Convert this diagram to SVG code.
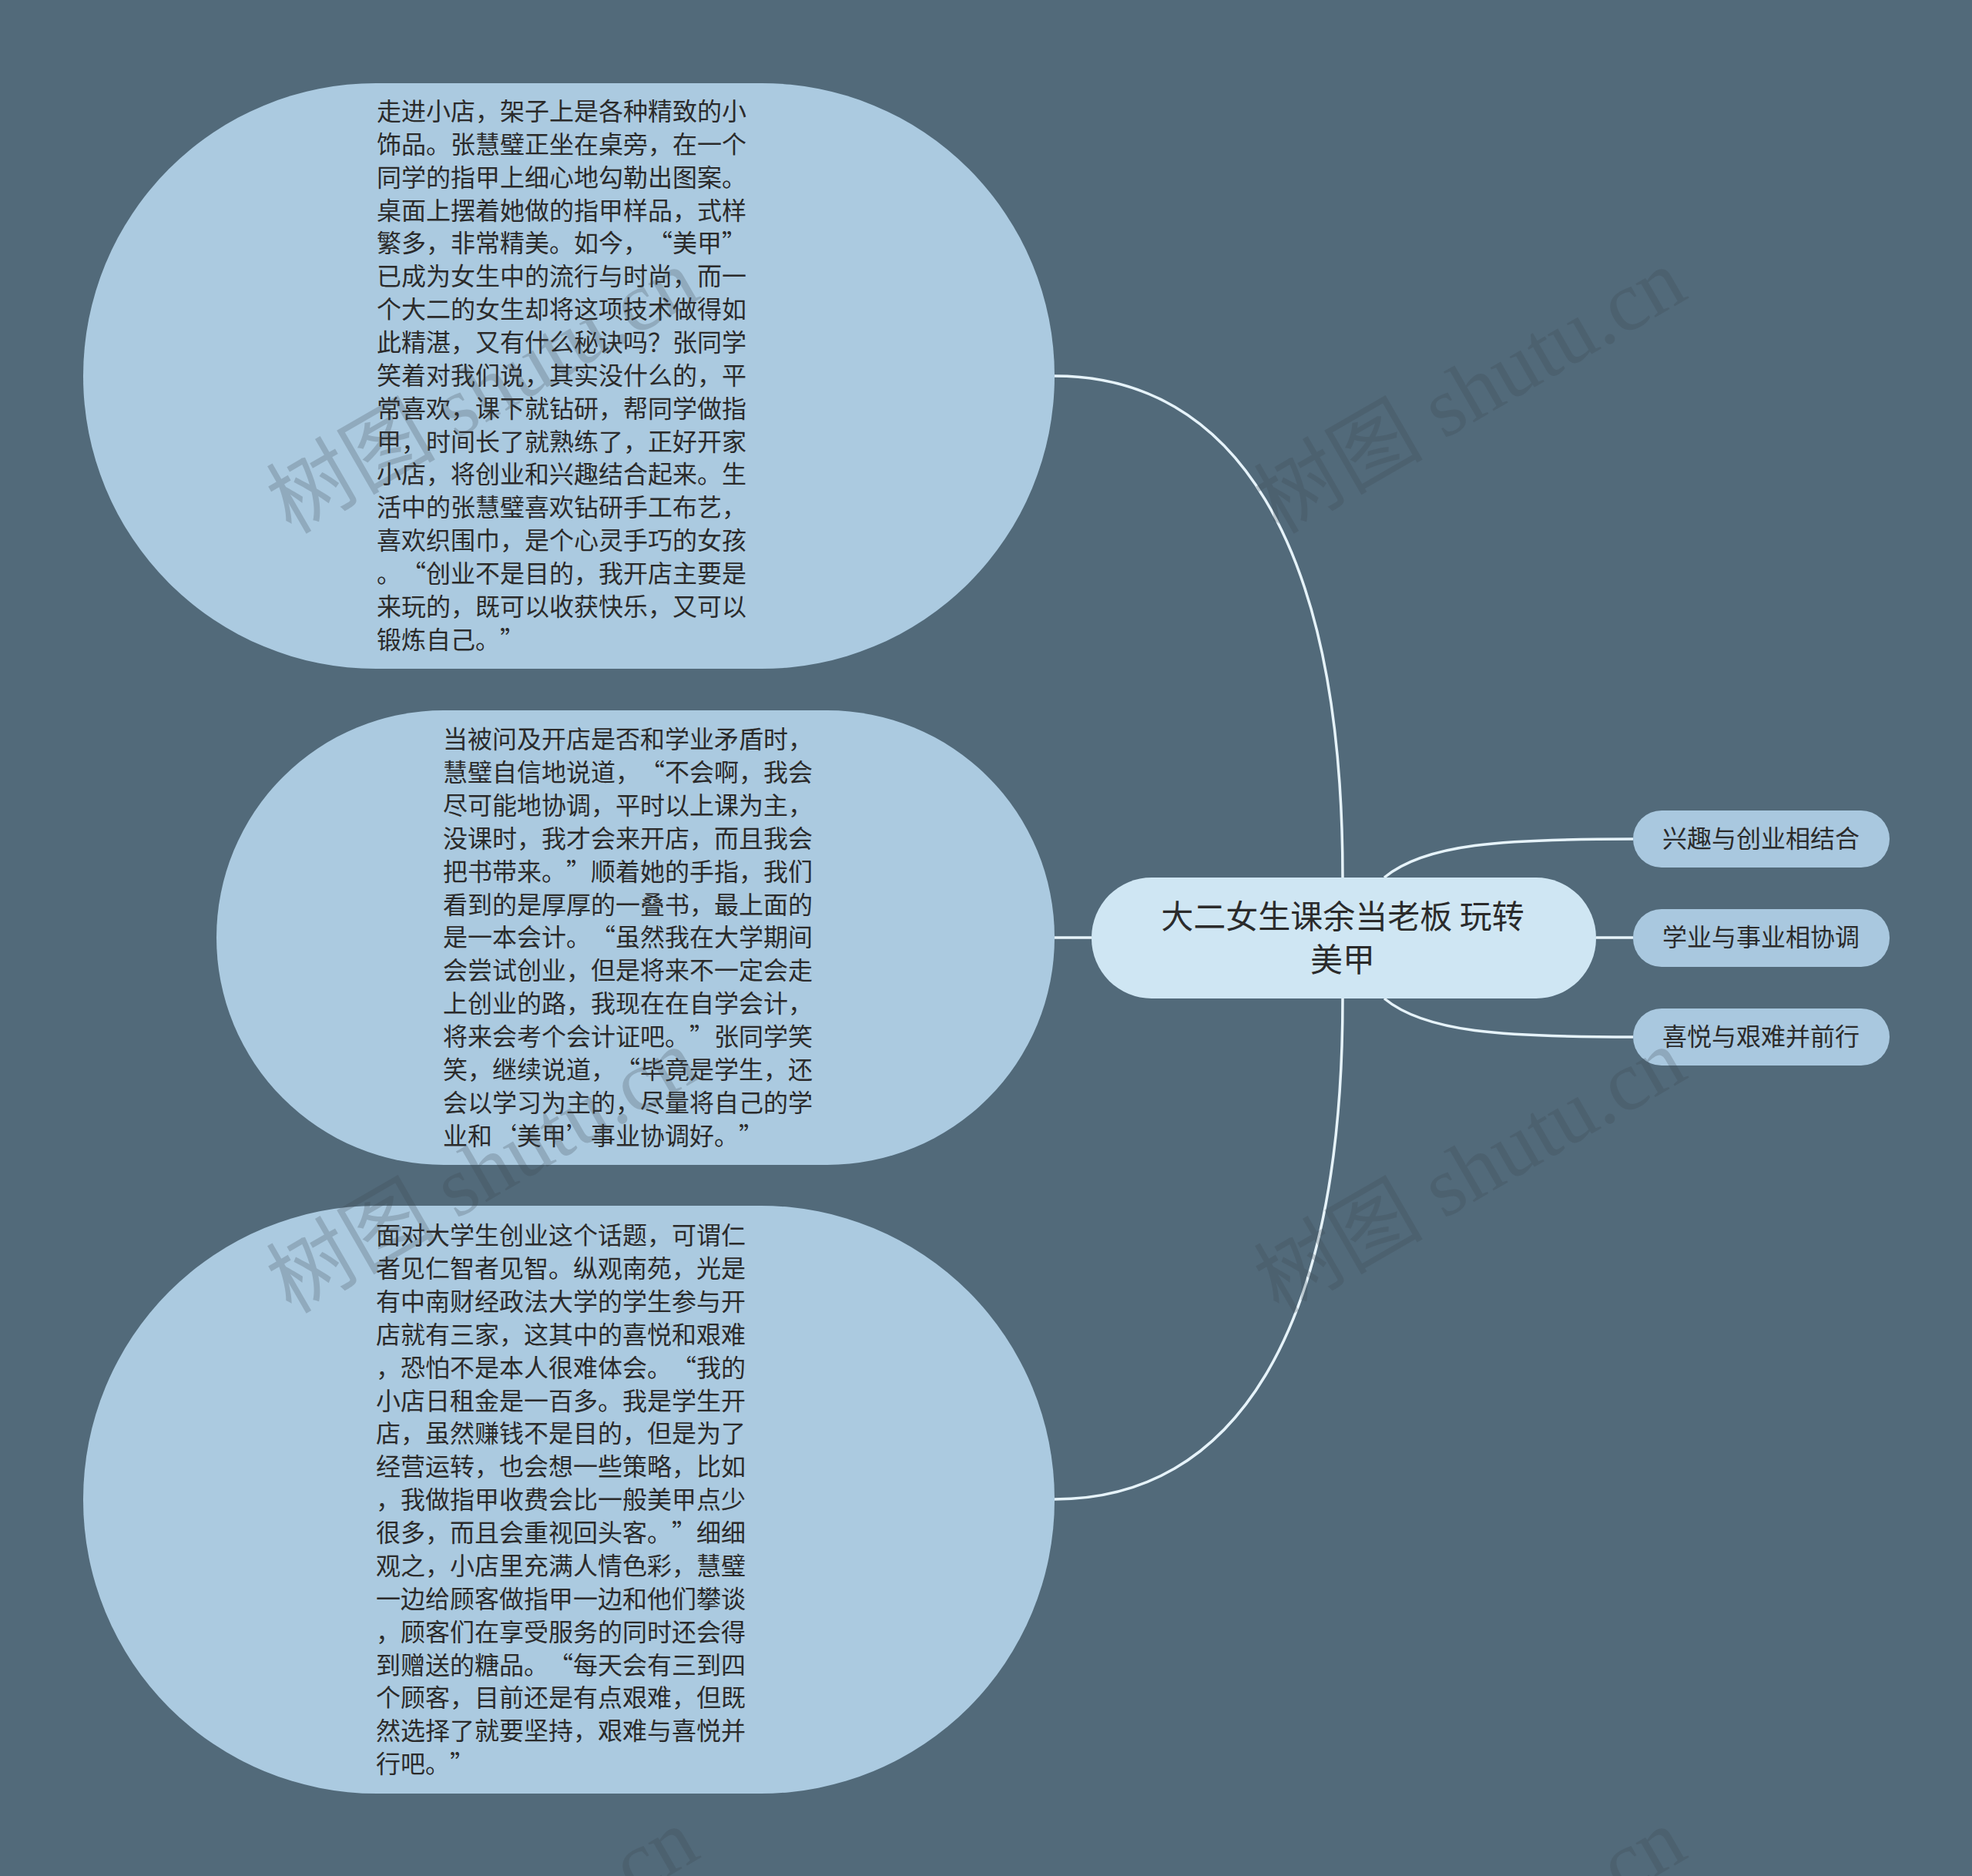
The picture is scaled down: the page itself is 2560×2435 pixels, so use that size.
<svg xmlns="http://www.w3.org/2000/svg" width="2560" height="2435" viewBox="0 0 2560 2435">
<style>
.bg{fill:#526a7a}
.big{fill:#abcae0}
.sub{fill:#a9c8df}
.root{fill:#cfe6f3}
.txt{font-family:"Noto Sans CJK SC","Noto Sans",sans-serif;font-size:32px;fill:#2b2b2b;text-spacing-trim:space-all}
.rtxt{font-family:"Noto Sans CJK SC","Noto Sans",sans-serif;font-size:42px;fill:#2b2b2b;text-anchor:middle}
.stxt{font-family:"Noto Sans CJK SC","Noto Sans",sans-serif;font-size:32px;fill:#2b2b2b;text-anchor:middle}
.conn{fill:none;stroke:#e6f3fa;stroke-width:3.5}
.wm{font-family:"Liberation Serif","Noto Sans CJK SC",serif;font-size:110px;fill:#3c4650;opacity:0.24}
</style>
<rect class="bg" x="0" y="0" width="2560" height="2435"/>
<g id="connectors">
<path class="conn" d="M1369,488 C1600,488 1743,700 1743,1139"/>
<path class="conn" d="M1369,1217 L1417,1217"/>
<path class="conn" d="M1369,1946 C1600,1946 1743,1734 1743,1296"/>
<path class="conn" d="M1797,1139 C1850,1095 1950,1089 2120,1089"/>
<path class="conn" d="M2072,1217 L2120,1217"/>
<path class="conn" d="M1797,1296 C1850,1340 1950,1346 2120,1346"/>
</g>
<g id="node1">
<rect class="big" x="108" y="108" width="1261" height="760" rx="380" ry="380"/>
<text class="txt">
<tspan x="489" y="156">走进小店，架子上是各种精致的小</tspan>
<tspan x="489" y="199">饰品。张慧璧正坐在桌旁，在一个</tspan>
<tspan x="489" y="242">同学的指甲上细心地勾勒出图案。</tspan>
<tspan x="489" y="285">桌面上摆着她做的指甲样品，式样</tspan>
<tspan x="489" y="327">繁多，非常精美。如今，“美甲”</tspan>
<tspan x="489" y="370">已成为女生中的流行与时尚，而一</tspan>
<tspan x="489" y="413">个大二的女生却将这项技术做得如</tspan>
<tspan x="489" y="456">此精湛，又有什么秘诀吗？张同学</tspan>
<tspan x="489" y="499">笑着对我们说，其实没什么的，平</tspan>
<tspan x="489" y="542">常喜欢，课下就钻研，帮同学做指</tspan>
<tspan x="489" y="585">甲，时间长了就熟练了，正好开家</tspan>
<tspan x="489" y="627">小店，将创业和兴趣结合起来。生</tspan>
<tspan x="489" y="670">活中的张慧璧喜欢钻研手工布艺，</tspan>
<tspan x="489" y="713">喜欢织围巾，是个心灵手巧的女孩</tspan>
<tspan x="489" y="756">。“创业不是目的，我开店主要是</tspan>
<tspan x="489" y="799">来玩的，既可以收获快乐，又可以</tspan>
<tspan x="489" y="842">锻炼自己。”</tspan>
</text>
</g>
<g id="node2">
<rect class="big" x="281" y="922" width="1088" height="590" rx="295" ry="295"/>
<text class="txt">
<tspan x="575" y="971">当被问及开店是否和学业矛盾时，</tspan>
<tspan x="575" y="1014">慧璧自信地说道，“不会啊，我会</tspan>
<tspan x="575" y="1057">尽可能地协调，平时以上课为主，</tspan>
<tspan x="575" y="1100">没课时，我才会来开店，而且我会</tspan>
<tspan x="575" y="1143">把书带来。”顺着她的手指，我们</tspan>
<tspan x="575" y="1186">看到的是厚厚的一叠书，最上面的</tspan>
<tspan x="575" y="1228">是一本会计。“虽然我在大学期间</tspan>
<tspan x="575" y="1271">会尝试创业，但是将来不一定会走</tspan>
<tspan x="575" y="1314">上创业的路，我现在在自学会计，</tspan>
<tspan x="575" y="1357">将来会考个会计证吧。”张同学笑</tspan>
<tspan x="575" y="1400">笑，继续说道，“毕竟是学生，还</tspan>
<tspan x="575" y="1443">会以学习为主的，尽量将自己的学</tspan>
<tspan x="575" y="1486">业和‘美甲’事业协调好。”</tspan>
</text>
</g>
<g id="node3">
<rect class="big" x="108" y="1565" width="1261" height="763" rx="381" ry="381"/>
<text class="txt">
<tspan x="488" y="1615">面对大学生创业这个话题，可谓仁</tspan>
<tspan x="488" y="1658">者见仁智者见智。纵观南苑，光是</tspan>
<tspan x="488" y="1701">有中南财经政法大学的学生参与开</tspan>
<tspan x="488" y="1744">店就有三家，这其中的喜悦和艰难</tspan>
<tspan x="488" y="1787">，恐怕不是本人很难体会。“我的</tspan>
<tspan x="488" y="1830">小店日租金是一百多。我是学生开</tspan>
<tspan x="488" y="1872">店，虽然赚钱不是目的，但是为了</tspan>
<tspan x="488" y="1915">经营运转，也会想一些策略，比如</tspan>
<tspan x="488" y="1958">，我做指甲收费会比一般美甲点少</tspan>
<tspan x="488" y="2001">很多，而且会重视回头客。”细细</tspan>
<tspan x="488" y="2044">观之，小店里充满人情色彩，慧璧</tspan>
<tspan x="488" y="2087">一边给顾客做指甲一边和他们攀谈</tspan>
<tspan x="488" y="2130">，顾客们在享受服务的同时还会得</tspan>
<tspan x="488" y="2173">到赠送的糖品。“每天会有三到四</tspan>
<tspan x="488" y="2215">个顾客，目前还是有点艰难，但既</tspan>
<tspan x="488" y="2258">然选择了就要坚持，艰难与喜悦并</tspan>
<tspan x="488" y="2301">行吧。”</tspan>
</text>
</g>
<g id="root">
<rect class="root" x="1417" y="1139" width="655" height="157" rx="78" ry="78"/>
<text class="rtxt"><tspan x="1743" y="1205">大二女生课余当老板 玩转</tspan><tspan x="1743" y="1261">美甲</tspan></text>
</g>
<g id="sub1">
<rect class="sub" x="2120" y="1052" width="333" height="74" rx="37" ry="37"/>
<text class="stxt" x="2286" y="1100">兴趣与创业相结合</text>
</g>
<g id="sub2">
<rect class="sub" x="2120" y="1180" width="333" height="75" rx="37" ry="37"/>
<text class="stxt" x="2286" y="1228">学业与事业相协调</text>
</g>
<g id="sub3">
<rect class="sub" x="2120" y="1309" width="333" height="74" rx="37" ry="37"/>
<text class="stxt" x="2286" y="1357">喜悦与艰难并前行</text>
</g>
<g id="watermarks">
<text class="wm" text-anchor="middle" transform="translate(645,540) rotate(-30)">树图 shutu.cn</text>
<text class="wm" text-anchor="middle" transform="translate(1927,540) rotate(-30)">树图 shutu.cn</text>
<text class="wm" text-anchor="middle" transform="translate(645,1552) rotate(-30)">树图 shutu.cn</text>
<text class="wm" text-anchor="middle" transform="translate(1927,1552) rotate(-30)">树图 shutu.cn</text>
<text class="wm" text-anchor="middle" transform="translate(645,2564) rotate(-30)">树图 shutu.cn</text>
<text class="wm" text-anchor="middle" transform="translate(1927,2564) rotate(-30)">树图 shutu.cn</text>
</g>
</svg>
